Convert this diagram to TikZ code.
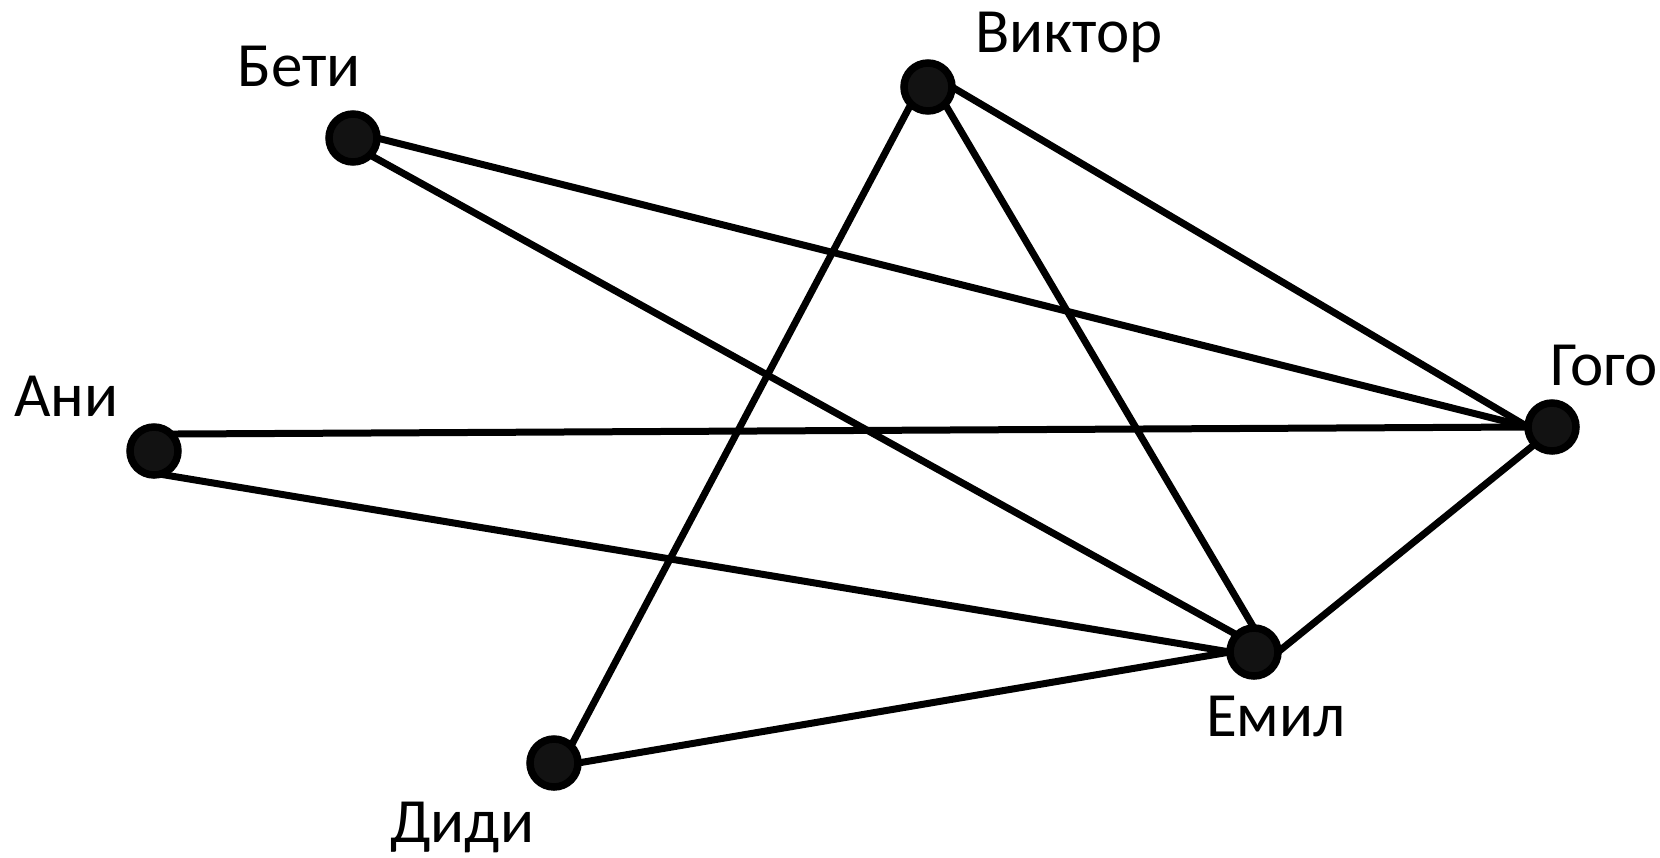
\documentclass[tikz,border=0pt]{standalone}
\usepackage{fontspec}
\setmainfont{Carlito}
\usetikzlibrary{backgrounds}
\begin{document}
\begin{tikzpicture}[x=1pt,y=-1pt,
  vertex/.style={circle,draw=black,fill=black!93,line width=7.5pt,minimum size=48pt,inner sep=0pt,outer sep=0pt},
  edge/.style={line width=7pt},
  lbl/.style={anchor=base west,inner sep=0pt,font=\fontsize{63}{66}\selectfont}]
\useasboundingbox (0,0) rectangle (1660,857);
% vertices
\node[vertex] (beti)   at (353,138) {};
\node[vertex] (viktor) at (928,87) {};
\node[vertex] (ani)    at (154,451) {};
\node[vertex] (gogo)   at (1552,427) {};
\node[vertex] (emil)   at (1254,652) {};
\node[vertex] (didi)   at (554,763) {};
% names
\node[lbl] (lbeti)   at (237,86)   {Бети};
\node[lbl] (lviktor) at (975,52.7) {Виктор};
\node[lbl] (lani)    at (14,416)   {Ани};
\node[lbl] (lgogo)   at (1550,385) {Гого};
\node[lbl] (lemil)   at (1206,736.7) {Емил};
\node[lbl] (ldidi)   at (390,842.7) {Диди};
% edges behind the vertices, joined at the connection points of the circles
\begin{scope}[on background layer]
\draw[edge] (beti.0) -- (gogo.180);
\draw[edge] (beti.-45) -- (emil.135);
\draw[edge] (viktor.-135) -- (didi.45);
\draw[edge] (viktor.-45) -- (emil.90);
\draw[edge] (viktor.0) -- (gogo.180);
\draw[edge] (ani.45) -- (gogo.180);
\draw[edge] (ani.-75) -- (emil.180);
\draw[edge] (didi.0) -- (emil.180);
\draw[edge] (emil.0) -- (gogo.-135);
\end{scope}
\end{tikzpicture}
\end{document}
